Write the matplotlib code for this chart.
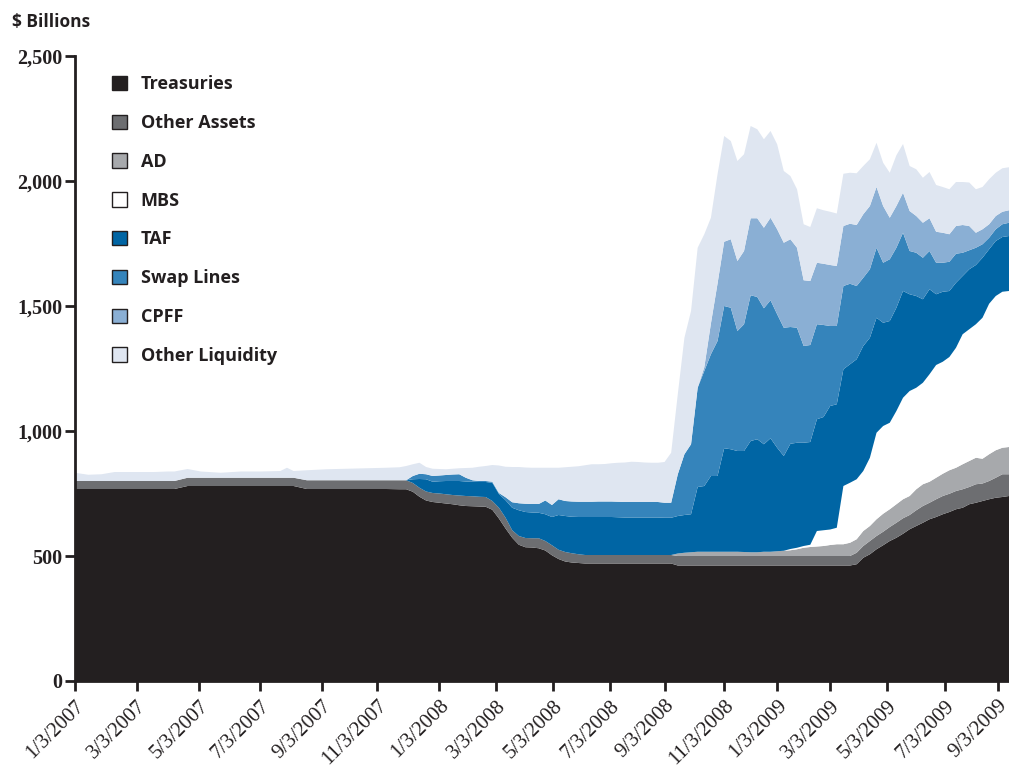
"""Federal Reserve balance sheet composition, weekly, Jan 2007 - Sep 2009"""
import matplotlib
matplotlib.use("Agg")
import matplotlib.pyplot as plt
from matplotlib.patches import Patch

# week index (0 = 1/3/2007), sparse during the calm of 2007
week = [0, 2, 4, 6, 8, 10, 12, 14, 15, 17, 19, 22, 25, 28, 31, 32, 33, 35, 38, 41, 44, 47, 49, 50,
        51, 52, 53, 54, 55, 56, 57, 58, 59, 60, 61, 62, 63, 64, 65, 66, 67, 68, 69, 70,
        71, 72, 73, 74, 75, 76, 77, 78, 79, 80, 81, 82, 83, 84, 85, 86, 87, 88, 89, 90,
        91, 92, 93, 94, 95, 96, 97, 98, 99, 100, 101, 102, 103, 104, 105, 106, 107, 108, 109, 110,
        111, 112, 113, 114, 115, 116, 117, 118, 119, 120, 121, 122, 123, 124, 125, 126, 127, 128, 129, 130,
        131, 132, 133, 134, 135, 136, 137, 138, 139, 140, 141]

treasuries = [768, 768, 768, 768, 768, 768, 768, 768, 768, 780, 780, 780, 780, 780, 780, 780, 780, 768, 768, 768, 768, 768, 767, 767,
              757, 737, 722, 716, 713, 710, 707, 703, 700, 699, 698, 697, 685, 650, 610, 573, 545, 535, 534, 531,
              522, 503, 488, 478, 474, 472, 470, 470, 470, 470, 470, 470, 470, 470, 470, 470, 470, 470, 470, 470,
              462, 462, 462, 462, 462, 462, 462, 462, 462, 462, 462, 462, 462, 462, 462, 462, 462, 462, 462, 462,
              462, 462, 462, 462, 462, 462, 462, 467, 493, 507, 527, 543, 560, 573, 589, 607, 620, 633, 647, 656,
              667, 676, 687, 693, 707, 713, 720, 727, 733, 736, 740]
other_assets = [32, 32, 32, 32, 32, 32, 32, 32, 32, 33, 33, 33, 33, 33, 33, 33, 33, 35, 35, 35, 35, 35, 36, 36,
                35, 36, 36, 36, 37, 37, 37, 39, 40, 40, 39, 39, 35, 43, 43, 30, 35, 37, 37, 40,
                38, 40, 37, 38, 37, 35, 34, 34, 34, 34, 34, 34, 34, 34, 34, 34, 34, 34, 34, 34,
                38, 38, 38, 38, 38, 38, 38, 38, 38, 38, 38, 38, 38, 38, 38, 38, 38, 38, 38, 38,
                38, 38, 38, 38, 38, 38, 38, 46, 47, 53, 53, 54, 56, 60, 62, 57, 63, 67, 66, 71,
                73, 73, 73, 74, 69, 74, 70, 73, 80, 91, 87]
ad = [0] * 24 + \
     [0, 0, 0, 0, 0, 0, 0, 0, 0, 0, 0, 0, 0, 0, 0, 0, 0, 0, 0, 0,
      0, 0, 0, 0, 0, 0, 0, 0, 0, 0, 0, 0, 0, 0, 0, 0, 0, 0, 0, 0,
      10, 13, 15, 17, 17, 17, 17, 17, 17, 17, 16, 15, 15, 17, 17, 19, 21, 23, 27, 33,
      36, 38, 40, 44, 47, 47, 53, 54, 60, 60, 67, 72, 71, 74, 76, 76, 84, 87, 84, 86,
      89, 94, 93, 100, 104, 106, 99, 107, 110, 106, 109]
mbs = [0] * 24 + \
      [0, 0, 0, 0, 0, 0, 0, 0, 0, 0, 0, 0, 0, 0, 0, 0, 0, 0, 0, 0,
       0, 0, 0, 0, 0, 0, 0, 0, 0, 0, 0, 0, 0, 0, 0, 0, 0, 0, 0, 0,
       0, 0, 0, 0, 0, 0, 0, 0, 0, 0, 0, 0, 0, 0, 0, 0, 0, 5, 6, 7,
       9, 62, 63, 62, 66, 233, 240, 240, 240, 273, 346, 351, 346, 373, 406, 420, 406, 406, 430, 451,
       448, 453, 480, 520, 527, 534, 564, 602, 617, 624, 624]
taf = [0] * 24 + \
      [15, 35, 49, 45, 49, 53, 56, 58, 58, 58, 59, 60, 73, 55, 70, 90, 103, 104, 103, 102,
       107, 113, 139, 144, 146, 149, 152, 152, 152, 152, 152, 151, 150, 150, 150, 150, 150, 150, 149, 149,
       150, 151, 152, 259, 263, 303, 303, 414, 410, 403, 404, 445, 452, 430, 454, 414, 379, 421, 420, 413,
       411, 447, 453, 494, 494, 467, 474, 480, 500, 480, 460, 413, 407, 413, 427, 387, 367, 334, 340, 283,
       280, 264, 260, 233, 240, 237, 240, 218, 220, 219, 220]
swap_lines = [0] * 24 + \
             [13, 21, 20, 23, 23, 24, 26, 27, 15, 6, 4, 4, 4, 4, 12, 22, 28, 33, 34, 35,
              55, 48, 63, 60, 61, 61, 61, 61, 62, 62, 62, 62, 62, 62, 62, 62, 62, 62, 60, 60,
              167, 243, 280, 397, 460, 487, 540, 569, 566, 480, 507, 583, 569, 544, 552, 534, 513, 467, 460, 387,
              388, 380, 368, 320, 313, 333, 322, 293, 273, 274, 280, 240, 247, 240, 233, 173, 173, 166, 153, 126,
              116, 117, 116, 93, 76, 69, 54, 46, 47, 51, 53]
cpff = [0] * 24 + \
       [0, 0, 0, 0, 0, 0, 0, 0, 0, 0, 0, 0, 0, 0, 0, 0, 0, 0, 0, 0,
        0, 0, 0, 0, 0, 0, 0, 0, 0, 0, 0, 0, 0, 0, 0, 0, 0, 0, 0, 0,
        0, 0, 0, 0, 15, 123, 230, 257, 274, 280, 293, 308, 315, 322, 330, 340, 340, 351, 320, 263,
        256, 246, 245, 244, 240, 240, 240, 244, 254, 253, 243, 227, 166, 167, 160, 160, 147, 140, 131, 124,
        120, 110, 111, 111, 97, 60, 60, 54, 53, 50, 50]
other_liquidity = [33, 25, 27, 36, 36, 36, 36, 38, 38, 35, 25, 20, 25, 25, 27, 40, 27, 40, 44, 46, 48, 50, 52, 57,
                   47, 44, 29, 29, 26, 23, 23, 24, 39, 50, 57, 60, 67, 110, 122, 141, 145, 145, 145, 145,
                   131, 149, 126, 135, 139, 142, 146, 150, 149, 150, 153, 156, 158, 161, 160, 158, 157, 157, 163, 200,
                   320, 466, 533, 560, 532, 423, 437, 423, 393, 400, 387, 369, 356, 354, 347, 340, 287, 253, 234, 224,
                   216, 218, 214, 213, 210, 209, 204, 207, 193, 187, 177, 173, 180, 203, 195, 180, 187, 180, 185, 187,
                   183, 180, 176, 172, 174, 174, 169, 180, 173, 174, 172]

series_names = ["Treasuries", "Other Assets", "AD", "MBS", "TAF", "Swap Lines", "CPFF", "Other Liquidity"]
colors = ["#231f20", "#6d6e71", "#a7a9ac", "#ffffff", "#0065a4", "#3584bb", "#8aafd4", "#dfe6f1"]

tick_labels = ["1/3/2007", "3/3/2007", "5/3/2007", "7/3/2007", "9/3/2007", "11/3/2007",
               "1/3/2008", "3/3/2008", "5/3/2008", "7/3/2008", "9/3/2008", "11/3/2008",
               "1/3/2009", "3/3/2009", "5/3/2009", "7/3/2009", "9/3/2009"]
tick_weeks = [0, 9.3, 18.7, 28, 37.3, 45.6, 55, 63.6, 72.2, 80.8, 89, 98, 106, 114, 122.6, 131.4, 139.3]

W, H = 1009, 765
fig = plt.figure(figsize=(W / 100, H / 100), dpi=100)
ax = fig.add_axes([75 / W, (H - 681) / H, (W - 75) / W, 625 / H])

data = [treasuries, other_assets, ad, mbs, taf, swap_lines, cpff, other_liquidity]
ax.stackplot(week, *data, colors=colors, linewidth=0)

ax.set_xlim(0, 141)
ax.set_ylim(0, 2500)
ax.set_yticks([0, 500, 1000, 1500, 2000, 2500])
ax.set_yticklabels(["0", "500", "1,000", "1,500", "2,000", "2,500"],
                   fontfamily="Liberation Serif", fontweight="bold", fontsize=14.5, color="#231f20")
ax.set_xticks(tick_weeks)
ax.set_xticklabels(tick_labels, rotation=45, ha="right", va="top", rotation_mode="anchor",
                   fontfamily="Liberation Serif", fontsize=15, color="#231f20")
ax.tick_params(axis="both", direction="out", length=7, width=2, color="#231f20")
ax.tick_params(axis="x", pad=4)
ax.tick_params(axis="y", pad=2)

for s in ["top", "right"]:
    ax.spines[s].set_visible(False)
ax.spines["left"].set_linewidth(2)
ax.spines["left"].set_color("#231f20")
ax.spines["bottom"].set_linewidth(2)
ax.spines["bottom"].set_color("#231f20")

fig.text(12 / W, 1 - 22 / H, "$ Billions", fontfamily="Open Sans", fontweight="bold",
         fontsize=12.5, color="#231f20", va="center", ha="left")

handles = [Patch(facecolor=c, edgecolor="#231f20", linewidth=1.0) for c in colors]
leg = ax.legend(handles, series_names, loc="upper left", bbox_to_anchor=(0.022, 0.995),
                frameon=False, handlelength=0.85, handleheight=0.85, handletextpad=0.75,
                labelspacing=1.15, prop={"family": "Open Sans", "weight": "bold", "size": 13})
for t in leg.get_texts():
    t.set_color("#231f20")

fig.savefig("out.png", dpi=100)
